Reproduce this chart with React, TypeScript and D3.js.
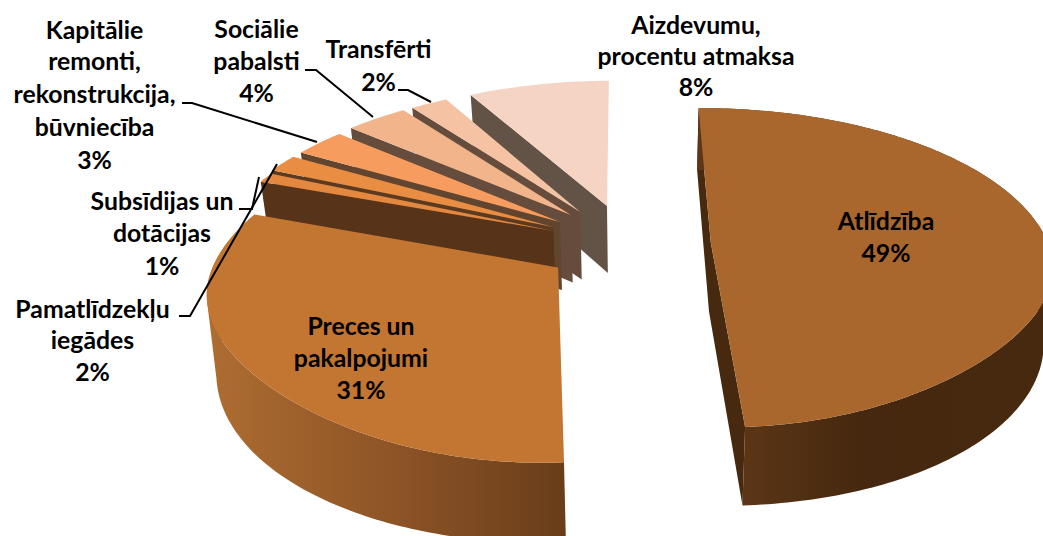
import React from "react";
import * as d3 from "d3";

const categories = ["Atlīdzība", "Preces un pakalpojumi", "Subsīdijas un dotācijas", "Pamatlīdzekļu iegādes", "Kapitālie remonti, rekonstrukcija, būvniecība", "Sociālie pabalsti", "Transfērti", "Aizdevumu, procentu atmaksa"];
const shares = [49.3, 31.4, 1, 1.8, 2.9, 3.5, 2.1, 8];
const topColors = ["#A9662D", "#C27632", "#E4883F", "#E98D42", "#F59C5E", "#F2B48A", "#F5C3A3", "#F6D4C3"];
const wallColors = ["#46290F", "#6B3F1B", "#57331A", "#5A3A20", "#61452F", "#654C3D", "#654C3D", "#635246"];

// layout of the exploded, perspective-drawn pie
const W = 1043, H = 536;
const X0 = 640, Y0 = 242.5, RX = 337, RY = 155.6, P = 0.158, DEPTH = 69, NARROW = 0.975, FLATTEN = 0.028;
const START_DEG = -0.5;
const sliceOffsets: [number, number][] = [
  [0.21, 0], [-0.237, 0.1566], [-0.26, -0.0746], [-0.262, -0.1012],
  [-0.2425, -0.1345], [-0.2107, -0.1818], [-0.183, -0.2022], [-0.1017, -0.2436],
];

type Pt = [number, number];
const project = (u: number, v: number): Pt => {
  const s = 1 / (1 - P * v);
  return [X0 + RX * u * s, Y0 + RY * v * s];
};
const lower = (u: number, v: number): Pt => {
  const p = project(u, v);
  return [X0 + (p[0] - X0) * NARROW, p[1] + DEPTH * Math.pow(1 / (1 - P * v), 0.75)];
};
const lineGen = d3.line<Pt>();

const pieLayout = d3.pie<number>().sort(null).value((d) => d)
  .startAngle((START_DEG * Math.PI) / 180).endAngle((START_DEG * Math.PI) / 180 + 2 * Math.PI);
const arcs = pieLayout(shares);

// the front of the top face bulges a little less than a true ellipse
const faceRadius = (t: number) => (Math.cos(t) < 0 ? 1 - FLATTEN * Math.pow(Math.sin(2 * t), 2) : 1);

function geometry(i: number) {
  const a = arcs[i];
  const [ou, ov] = sliceOffsets[i];
  const n = Math.max(4, Math.ceil((a.endAngle - a.startAngle) * 60));
  const angles = d3.range(n + 1).map((k) => a.startAngle + ((a.endAngle - a.startAngle) * k) / n);
  return {
    arcTop: angles.map((t) => project(ou + faceRadius(t) * Math.sin(t), ov - faceRadius(t) * Math.cos(t))),
    arcBottom: angles.map((t) => lower(ou + Math.sin(t), ov - Math.cos(t))),
    apex: project(ou, ov),
    apexB: lower(ou, ov),
  };
}

const closed = (pts: Pt[]) => (lineGen(pts) ?? "") + "Z";

// the rim as the area swept between the upper and lower arc; every quad wound the same way
const sweptRim = (top: Pt[], bottom: Pt[]) =>
  d3.range(top.length - 1)
    .map((k) => {
      const quad: Pt[] = [top[k], top[k + 1], bottom[k + 1], bottom[k]];
      return closed(d3.polygonArea(quad) < 0 ? [...quad].reverse() : quad);
    })
    .join("");

type Label = { cx: number; lines: string[]; ys: number[] };
const labels: Label[] = [
  { cx: 886, lines: ["Atlīdzība", "49%"], ys: [222, 254] },
  { cx: 361, lines: ["Preces un", "pakalpojumi", "31%"], ys: [327, 359, 391] },
  { cx: 162, lines: ["Subsīdijas un", "dotācijas", "1%"], ys: [202, 234, 267] },
  { cx: 92.5, lines: ["Pamatlīdzekļu", "iegādes", "2%"], ys: [310, 341, 373] },
  { cx: 94.5, lines: ["Kapitālie", "remonti,", "rekonstrukcija,", "būvniecība", "3%"], ys: [31, 62, 95, 128, 161] },
  { cx: 256.5, lines: ["Sociālie", "pabalsti", "4%"], ys: [30, 62, 94] },
  { cx: 378.5, lines: ["Transfērti", "2%"], ys: [50, 83] },
  { cx: 696, lines: ["Aizdevumu,", "procentu atmaksa", "8%"], ys: [26, 57, 88] },
];
const leaders: Pt[][] = [
  [[179, 316], [190, 316], [277, 164]],
  [[239, 209], [252, 209], [259, 177]],
  [[182, 103], [192, 103], [317, 142]],
  [[305, 70], [316, 70], [373, 117]],
  [[398, 90], [408, 90], [431, 102]],
];

export default function App() {
  const backToFront = [7, 6, 5, 4, 3, 2];
  const g0 = geometry(0);
  const g1 = geometry(1);
  return (
    <svg width={W} height={H} viewBox={`0 0 ${W} ${H}`} style={{ position: "fixed", left: 0, top: 0, background: "#fff" }}>
      <defs>
        <linearGradient id="rimPreces" gradientUnits="userSpaceOnUse" x1={207} x2={565} y1={0} y2={0}>
          <stop offset="0" stopColor="#AE6D31" />
          <stop offset="0.5" stopColor="#8F5527" />
          <stop offset="1" stopColor="#693D1A" />
        </linearGradient>
        <linearGradient id="rimAtl" gradientUnits="userSpaceOnUse" x1={741} x2={1043} y1={0} y2={0}>
          <stop offset="0" stopColor="#5C3616" />
          <stop offset="0.4" stopColor="#45280F" />
          <stop offset="1" stopColor="#47290F" />
        </linearGradient>
      </defs>
      {backToFront.map((i) => {
        const g = geometry(i);
        const wall: Pt[] = [g.arcTop[0], g.apex, g.apexB, g.arcBottom[0]];
        return (
          <g key={categories[i]}>
            <path d={closed(wall)} fill={wallColors[i]} />
            <path d={closed([g.apex, ...g.arcTop])} fill={topColors[i]} />
          </g>
        );
      })}
      <path d={sweptRim(g1.arcTop, g1.arcBottom)} fill="url(#rimPreces)" />
      <path d={closed([g1.apex, ...g1.arcTop])} fill={topColors[1]} />
      <path d={closed([g0.arcTop[0], g0.arcBottom[0], g0.apexB, g0.arcBottom[g0.arcBottom.length - 1], g0.arcTop[g0.arcTop.length - 1], g0.apex])} fill={wallColors[0]} />
      <path d={sweptRim(g0.arcTop, g0.arcBottom)} fill="url(#rimAtl)" />
      <path d={closed([g0.apex, ...g0.arcTop])} fill={topColors[0]} />
      {leaders.map((pts, i) => (
        <path key={i} d={lineGen(pts) ?? ""} fill="none" stroke="#000" strokeWidth={2} />
      ))}
      <g fontFamily="Lato, sans-serif" fontWeight={700} fontSize={24.8} textAnchor="middle" fill="#000">
        {labels.map((l) => l.lines.map((t, k) => (
          <text key={l.cx + t} x={l.cx} y={l.ys[k] + 8}>{t}</text>
        )))}
      </g>
    </svg>
  );
}
